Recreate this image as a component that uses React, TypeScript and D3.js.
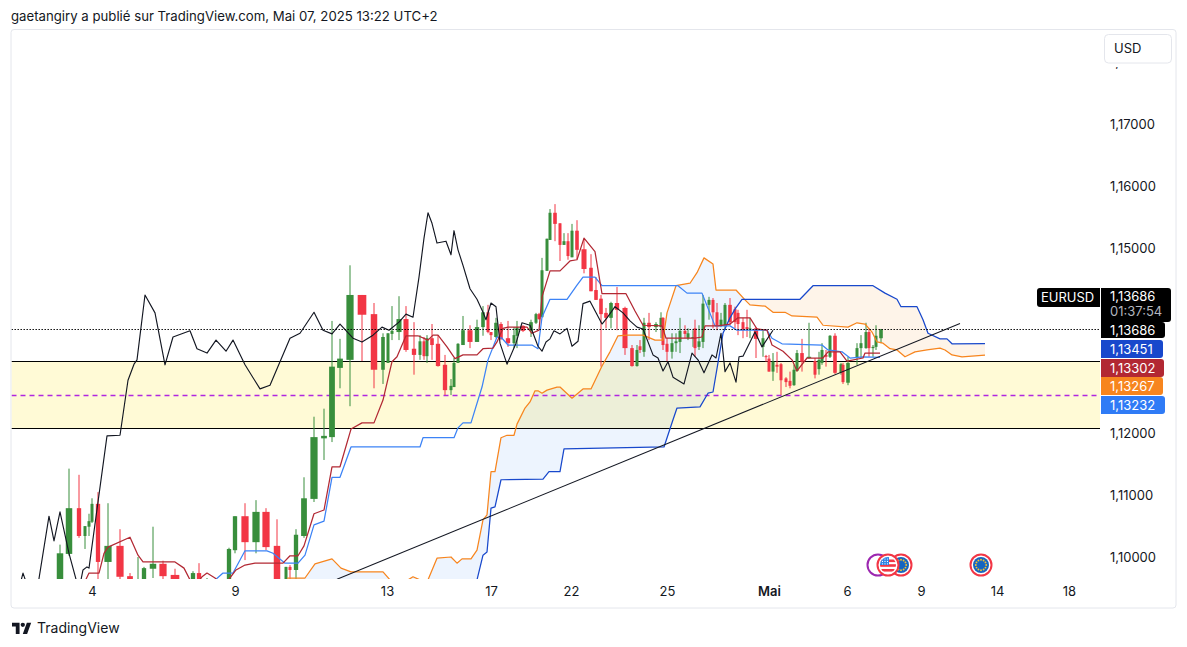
import React, { useEffect, useRef } from 'react';
import * as d3 from 'd3';

type Pt = [number, number];
type Candle = [number, number, number, number, number];

const width = 1187;
const height = 647;

// [bar position, open, high, low, close]
const candles: Candle[] = [
  [60, 1.0947, 1.102, 1.0938, 1.1006], [69, 1.1005, 1.1143, 1.1002, 1.1079], [79, 1.1079, 1.1133, 1.1031, 1.1034],
  [85, 1.1034, 1.105, 1.1013, 1.105], [89, 1.1049, 1.107, 1.1034, 1.1058], [92, 1.1057, 1.1095, 1.1055, 1.1086],
  [98, 1.1086, 1.1105, 1.0947, 1.0992], [108, 1.0992, 1.1087, 1.0947, 1.1018], [120, 1.1018, 1.1045, 1.096, 1.0968],
  [130, 1.0969, 1.0974, 1.095, 1.0955], [138, 1.094, 1.1, 1.093, 1.0955], [144, 1.0947, 1.0984, 1.094, 1.0982],
  [153, 1.0981, 1.1049, 1.0966, 1.0989], [163, 1.0989, 1.0994, 1.0955, 1.0969], [175, 1.0971, 1.0981, 1.094, 1.0947],
  [193, 1.0947, 1.0977, 1.094, 1.0974], [199, 1.0974, 1.099, 1.094, 1.0947], [207, 1.094, 1.0966, 1.0935, 1.0955],
  [229, 1.0947, 1.1015, 1.094, 1.1013], [235, 1.1011, 1.1066, 1.1006, 1.1066], [245, 1.1066, 1.1087, 1.0995, 1.1024],
  [256, 1.1024, 1.1092, 1.1006, 1.1073], [266, 1.1073, 1.1079, 1.1011, 1.1016], [277, 1.1018, 1.1061, 1.094, 1.0947],
  [286, 1.0947, 1.0984, 1.094, 1.0984], [290, 1.0984, 1.0987, 1.0955, 1.0979], [296, 1.0979, 1.1045, 1.0947, 1.1036],
  [304, 1.1034, 1.1129, 1.1031, 1.1095], [314, 1.1094, 1.1227, 1.1089, 1.1194], [324, 1.1192, 1.124, 1.1157, 1.1196],
  [332, 1.1194, 1.1382, 1.1186, 1.1308], [340, 1.1306, 1.1353, 1.1273, 1.1321], [350, 1.1319, 1.1472, 1.1244, 1.1424],
  [362, 1.1424, 1.1424, 1.1317, 1.1392], [374, 1.1393, 1.1411, 1.1273, 1.1303], [383, 1.1303, 1.1362, 1.128, 1.1356],
  [388, 1.1314, 1.1362, 1.1314, 1.1362], [392, 1.1361, 1.1406, 1.1351, 1.1366], [399, 1.1364, 1.1422, 1.1351, 1.1385],
  [406, 1.1385, 1.1406, 1.1332, 1.1335], [414, 1.1337, 1.138, 1.1295, 1.1327], [420, 1.1327, 1.1359, 1.1319, 1.1349],
  [424, 1.1349, 1.1356, 1.1319, 1.1325], [427, 1.1325, 1.1359, 1.1314, 1.1354], [432, 1.1354, 1.1377, 1.1319, 1.1343],
  [438, 1.1345, 1.1359, 1.1308, 1.1309], [445, 1.1311, 1.1327, 1.1262, 1.127], [451, 1.127, 1.1288, 1.1262, 1.1277],
  [454, 1.1275, 1.1322, 1.1275, 1.1314], [458, 1.1314, 1.1346, 1.1314, 1.1345], [463, 1.1343, 1.139, 1.1343, 1.1367],
  [470, 1.1367, 1.1375, 1.1338, 1.1348], [477, 1.1348, 1.1384, 1.1348, 1.1372], [483, 1.1372, 1.1406, 1.1358, 1.1396],
  [488, 1.1396, 1.1408, 1.1362, 1.1364], [491, 1.1364, 1.1364, 1.1351, 1.1359], [496, 1.1356, 1.1387, 1.1354, 1.1379],
  [501, 1.1377, 1.138, 1.1351, 1.1353], [508, 1.1354, 1.1382, 1.134, 1.1346], [514, 1.1346, 1.1372, 1.1338, 1.1359],
  [517, 1.1358, 1.1382, 1.1338, 1.1372], [523, 1.1374, 1.1375, 1.1364, 1.1366], [531, 1.1366, 1.1384, 1.1356, 1.138],
  [536, 1.1379, 1.1395, 1.1377, 1.1393], [539, 1.1393, 1.1395, 1.1384, 1.1385], [542, 1.1388, 1.1484, 1.1388, 1.1464],
  [547, 1.1463, 1.1515, 1.1463, 1.1515], [550, 1.1513, 1.1563, 1.1513, 1.1557], [555, 1.1557, 1.1571, 1.1511, 1.1539],
  [560, 1.154, 1.154, 1.1479, 1.1505], [564, 1.1505, 1.1524, 1.1505, 1.1511], [568, 1.1511, 1.1524, 1.1481, 1.1487],
  [572, 1.1485, 1.1539, 1.1485, 1.1528], [577, 1.1528, 1.1545, 1.1482, 1.1497], [584, 1.1498, 1.1515, 1.1459, 1.1466],
  [591, 1.1468, 1.149, 1.143, 1.143], [596, 1.1432, 1.1453, 1.1416, 1.1416], [601, 1.1418, 1.1424, 1.1308, 1.1393],
  [606, 1.1395, 1.1403, 1.137, 1.1387], [611, 1.1387, 1.1413, 1.137, 1.1411], [617, 1.1411, 1.1437, 1.1367, 1.14],
  [625, 1.1403, 1.1405, 1.1327, 1.1338], [632, 1.1338, 1.1343, 1.1308, 1.1309], [637, 1.1309, 1.1343, 1.1308, 1.1335],
  [640, 1.1341, 1.1351, 1.133, 1.1335], [644, 1.1332, 1.1387, 1.1324, 1.1379], [649, 1.1379, 1.1395, 1.1351, 1.1372],
  [656, 1.1372, 1.138, 1.1364, 1.1377], [661, 1.1372, 1.1396, 1.1354, 1.1387], [663, 1.1387, 1.1388, 1.1335, 1.1343],
  [667, 1.1345, 1.1354, 1.1317, 1.1332], [672, 1.1332, 1.1362, 1.1321, 1.1346], [676, 1.1346, 1.1362, 1.1332, 1.1349],
  [680, 1.1348, 1.1387, 1.133, 1.1366], [685, 1.1366, 1.1375, 1.1354, 1.1361], [688, 1.1354, 1.137, 1.1351, 1.1362],
  [693, 1.1354, 1.1367, 1.134, 1.1356], [695, 1.137, 1.1384, 1.1324, 1.1338], [699, 1.134, 1.1375, 1.1335, 1.1349],
  [703, 1.1348, 1.1424, 1.1338, 1.141], [709, 1.1408, 1.1421, 1.1384, 1.1416], [713, 1.1416, 1.1419, 1.137, 1.1396],
  [717, 1.1396, 1.1411, 1.1367, 1.1375], [721, 1.1375, 1.1395, 1.1372, 1.1384], [725, 1.1375, 1.1411, 1.1367, 1.1408],
  [730, 1.1408, 1.1419, 1.1375, 1.138], [735, 1.1401, 1.1405, 1.137, 1.138], [738, 1.1395, 1.14, 1.1359, 1.1377],
  [743, 1.138, 1.1387, 1.1354, 1.1367], [747, 1.1372, 1.14, 1.1356, 1.1369], [750, 1.1369, 1.1387, 1.1354, 1.137],
  [756, 1.137, 1.1372, 1.1322, 1.1353], [763, 1.134, 1.1367, 1.1324, 1.1354], [766, 1.1325, 1.1327, 1.1316, 1.1324],
  [769, 1.1321, 1.1327, 1.13, 1.13], [773, 1.13, 1.133, 1.1285, 1.1316], [777, 1.1311, 1.1332, 1.1298, 1.1308],
  [781, 1.1312, 1.1314, 1.1262, 1.1286], [786, 1.1289, 1.1291, 1.1275, 1.1283], [790, 1.1285, 1.13, 1.1273, 1.1277],
  [794, 1.1278, 1.1311, 1.1277, 1.1303], [797, 1.1301, 1.1335, 1.13, 1.133], [802, 1.133, 1.1353, 1.13, 1.1316],
  [809, 1.1322, 1.1379, 1.1321, 1.1324], [815, 1.1317, 1.1322, 1.1289, 1.1295], [819, 1.1304, 1.1332, 1.1295, 1.1319],
  [822, 1.1314, 1.1346, 1.1311, 1.1335], [826, 1.1327, 1.1335, 1.1308, 1.1324], [830, 1.1324, 1.1359, 1.1322, 1.1358],
  [835, 1.1358, 1.1362, 1.1296, 1.1298], [841, 1.1298, 1.1314, 1.1295, 1.1312], [843, 1.1311, 1.1314, 1.128, 1.1283],
  [848, 1.1282, 1.1324, 1.1278, 1.1314], [857, 1.1322, 1.1346, 1.1311, 1.1338], [861, 1.1338, 1.1359, 1.1322, 1.1346],
  [866, 1.1338, 1.1379, 1.1337, 1.1364], [869, 1.1364, 1.137, 1.1324, 1.1338], [873, 1.1338, 1.1343, 1.1324, 1.134],
  [876, 1.134, 1.1375, 1.1335, 1.1358], [881, 1.1354, 1.1369, 1.1346, 1.13686],
];

const conversionLine: Pt[] = [
  [86, 1.0964], [89, 1.0974], [99, 1.0974], [104, 1.1006], [108, 1.1016], [130, 1.1032], [138, 1.1003], [143, 1.0992],
  [175, 1.0992], [184, 1.0982], [190, 1.0963], [196, 1.0955], [202, 1.0968], [207, 1.0974], [215, 1.0966], [222, 1.0955],
  [229, 1.0964], [236, 1.0979], [245, 1.0987], [255, 1.099], [283, 1.099], [290, 1.1002], [298, 1.1002], [304, 1.1018],
  [314, 1.107], [324, 1.1076], [332, 1.1146], [340, 1.1146], [351, 1.1207], [362, 1.1217], [374, 1.1217], [383, 1.1254],
  [392, 1.1316], [397, 1.1324], [406, 1.1358], [418, 1.1358], [428, 1.1351], [433, 1.1359], [438, 1.1359], [447, 1.134],
  [455, 1.1321], [463, 1.1327], [477, 1.1327], [483, 1.1337], [493, 1.1338], [497, 1.1348], [503, 1.137], [508, 1.1372],
  [527, 1.1372], [532, 1.1362], [539, 1.1367], [542, 1.1421], [550, 1.1463], [560, 1.1463], [570, 1.1479], [577, 1.1481],
  [584, 1.1516], [595, 1.1494], [602, 1.1426], [626, 1.1426], [635, 1.1398], [643, 1.1375], [662, 1.1374], [666, 1.1354],
  [695, 1.1354], [702, 1.1356], [705, 1.1374], [718, 1.1374], [730, 1.1377], [738, 1.1387], [750, 1.1387], [757, 1.1369],
  [767, 1.1367], [772, 1.1343], [783, 1.1333], [792, 1.1319], [797, 1.1301], [807, 1.1322], [823, 1.1322], [828, 1.1332],
  [840, 1.1332], [847, 1.1317], [863, 1.1322], [865, 1.133], [880, 1.133],
];

const baseLine: Pt[] = [
  [216, 1.0964], [223, 1.0974], [233, 1.0974], [245, 1.101], [267, 1.101], [273, 1.1006], [285, 1.099], [298, 1.099],
  [305, 1.1003], [314, 1.1052], [324, 1.1058], [332, 1.1129], [340, 1.1129], [351, 1.1178], [420, 1.1178], [423, 1.1193],
  [454, 1.1193], [458, 1.1209], [463, 1.1217], [471, 1.1217], [482, 1.1275], [488, 1.1319], [497, 1.1356], [502, 1.1354],
  [508, 1.1343], [532, 1.1343], [538, 1.1337], [542, 1.1388], [550, 1.1417], [567, 1.1417], [577, 1.144], [583, 1.1453],
  [595, 1.1453], [602, 1.1439], [678, 1.1439], [687, 1.1427], [702, 1.1427], [715, 1.1374], [730, 1.1374], [737, 1.1367],
  [767, 1.1367], [772, 1.1354], [782, 1.1345], [822, 1.1343], [828, 1.1335], [842, 1.1332], [850, 1.1322], [863, 1.1324],
  [880, 1.13232],
];

const spanA: Pt[] = [
  [287, 1.0966], [305, 1.0966], [315, 1.0989], [332, 1.0997], [341, 1.0982], [351, 1.0976], [383, 1.0976], [390, 1.0963],
  [400, 1.0947], [408, 1.0963], [413, 1.0968], [420, 1.0963], [428, 1.0963], [437, 1.0998], [451, 1.1], [457, 1.099],
  [462, 1.0997], [471, 1.0997], [477, 1.1011], [483, 1.106], [487, 1.1068], [491, 1.1138], [495, 1.1138], [501, 1.1193],
  [507, 1.1197], [514, 1.1197], [517, 1.1215], [525, 1.1241], [530, 1.1251], [535, 1.1269], [538, 1.1269], [542, 1.1265],
  [547, 1.127], [557, 1.1275], [560, 1.1275], [572, 1.1257], [583, 1.1272], [591, 1.1272], [602, 1.1309], [610, 1.1332],
  [618, 1.1358], [627, 1.1359], [643, 1.1359], [655, 1.1351], [663, 1.1351], [667, 1.1395], [676, 1.1439], [690, 1.1443],
  [697, 1.146], [704, 1.1484], [713, 1.1474], [716, 1.1432], [736, 1.1432], [745, 1.1416], [750, 1.1408], [765, 1.1406],
  [773, 1.1396], [785, 1.1396], [792, 1.139], [817, 1.1388], [823, 1.1375], [848, 1.1372], [857, 1.1379], [865, 1.1377],
  [872, 1.1364], [877, 1.1348], [883, 1.1346], [890, 1.1337], [897, 1.1335], [905, 1.1324], [915, 1.1332], [927, 1.1335],
  [940, 1.1338], [945, 1.1335], [952, 1.1327], [962, 1.1324], [985, 1.13267],
];

const spanB: Pt[] = [
  [287, 1.09], [470, 1.09], [477, 1.0963], [483, 1.1003], [487, 1.1008], [491, 1.1079], [495, 1.1081], [501, 1.1125],
  [543, 1.1126], [549, 1.1138], [560, 1.1138], [564, 1.1175], [664, 1.1178], [673, 1.1222], [677, 1.1241], [700, 1.1243],
  [708, 1.1265], [713, 1.1267], [723, 1.1362], [730, 1.1387], [735, 1.1401], [742, 1.1417], [800, 1.1417], [813, 1.1439],
  [873, 1.1439], [885, 1.1427], [897, 1.1417], [901, 1.1405], [917, 1.1405], [923, 1.1384], [928, 1.1362], [940, 1.1353],
  [947, 1.1353], [952, 1.1345], [985, 1.13451],
];

const laggingSpan: Pt[] = [
  [20, 1.0955], [23, 1.0974], [27, 1.0955], [38, 1.0955], [49, 1.1066], [54, 1.1026], [60, 1.1073], [69, 1.1006], [76, 1.0964],
  [80, 1.0955], [83, 1.0979], [87, 1.0984], [89, 1.0982], [107, 1.1196], [120, 1.1197], [128, 1.1286], [134, 1.1312],
  [137, 1.1319], [145, 1.1424], [155, 1.1395], [165, 1.1311], [173, 1.1356], [190, 1.1366], [197, 1.1337], [207, 1.133],
  [216, 1.1351], [226, 1.1333], [233, 1.1351], [245, 1.1311], [260, 1.1272], [270, 1.1278], [290, 1.1354], [300, 1.1362],
  [314, 1.1396], [323, 1.1367], [332, 1.1361], [340, 1.1377], [353, 1.1354], [362, 1.1348], [373, 1.1359], [382, 1.1372],
  [389, 1.1367], [399, 1.138], [406, 1.1393], [413, 1.1388], [419, 1.1453], [424, 1.1516], [428, 1.1557], [432, 1.154],
  [437, 1.1508], [446, 1.1511], [451, 1.1489], [454, 1.1528], [458, 1.1497], [463, 1.1472], [470, 1.1434], [477, 1.1417],
  [483, 1.1396], [486, 1.1384], [491, 1.1411], [496, 1.1405], [500, 1.1346], [507, 1.1312], [516, 1.1346], [522, 1.1379],
  [530, 1.1375], [538, 1.1341], [542, 1.1333], [546, 1.1348], [550, 1.1353], [554, 1.1366], [560, 1.1361], [567, 1.137],
  [572, 1.1341], [578, 1.1349], [583, 1.141], [590, 1.1414], [602, 1.1377], [607, 1.1387], [615, 1.1405], [623, 1.1395],
  [630, 1.1382], [637, 1.1372], [643, 1.1369], [653, 1.1327], [658, 1.1322], [663, 1.1301], [668, 1.1316], [673, 1.1291],
  [684, 1.128], [692, 1.133], [698, 1.1319], [704, 1.1298], [712, 1.1327], [716, 1.1322], [721, 1.1362], [725, 1.13],
  [730, 1.1314], [736, 1.1283], [739, 1.1324], [743, 1.1325], [755, 1.1364], [762, 1.134], [773, 1.1367],
];

const trendLine: Pt[] = [[337, 1.0964], [960, 1.1378]];
const cloudFlip = 745;

const zoneTop = 1.1317;
const zoneBottom = 1.1208;
const zoneMiddle = 1.1262;
const lastPrice = 1.13686;

const priceTicks = [1.18, 1.17, 1.16, 1.15, 1.12, 1.11, 1.1];
const timeTicks = [92, 235, 387, 491, 571, 667, 769, 847, 921, 997, 1069];
const timeLabels = ['4', '9', '13', '17', '22', '25', 'Mai', '6', '9', '14', '18'];

const usEvents = [878, 888];
const euEvents = [901, 981];

const GREEN = '#388e3c';
const RED = '#f23645';
const INK = '#131722';
const FONT = 'Inter, "Liberation Sans", sans-serif';

const App: React.FC = () => {
  const svgRef = useRef<SVGSVGElement>(null);

  useEffect(() => {
    if (!svgRef.current) return;
    const svg = d3.select(svgRef.current);
    svg.selectAll('*').remove();

    const paneLeft = 11.5;
    const paneRight = 1100;
    const paneTop = 30;
    const paneBottom = 579;

    const x = d3.scaleLinear().domain([12, 1100]).range([12, 1100]);
    const y = d3.scaleLinear().domain([1.1, 1.17]).range([557, 124.4]);
    const crisp = (v: number) => Math.round(y(v)) + 0.5;

    const line = d3.line<Pt>().x(d => x(d[0])).y(d => y(d[1]));
    const defs = svg.append('defs');

    defs.append('clipPath').attr('id', 'pane')
      .append('rect')
      .attr('x', paneLeft).attr('y', paneTop)
      .attr('width', paneRight - paneLeft).attr('height', paneBottom - paneTop);
    defs.append('clipPath').attr('id', 'cloud-up')
      .append('rect')
      .attr('x', paneLeft).attr('y', paneTop)
      .attr('width', x(cloudFlip) - paneLeft).attr('height', paneBottom - paneTop);
    defs.append('clipPath').attr('id', 'cloud-down')
      .append('rect')
      .attr('x', x(cloudFlip)).attr('y', paneTop)
      .attr('width', paneRight - x(cloudFlip)).attr('height', paneBottom - paneTop);

    // frame
    svg.append('rect')
      .attr('x', 11).attr('y', 29.5).attr('width', 1165).attr('height', 578.5).attr('rx', 3)
      .attr('fill', '#fff').attr('stroke', '#e4e6ec');

    const pane = svg.append('g').attr('clip-path', 'url(#pane)');

    // support zone
    pane.append('rect')
      .attr('x', paneLeft).attr('width', paneRight - paneLeft)
      .attr('y', crisp(zoneTop)).attr('height', crisp(zoneBottom) - crisp(zoneTop))
      .attr('fill', '#fffad6');

    // cloud
    const cloudOutline = line([...spanA, ...[...spanB].reverse()]) + 'Z';
    pane.append('g').attr('clip-path', 'url(#cloud-up)')
      .append('path').attr('d', cloudOutline).attr('fill', '#2f7bf6').attr('opacity', 0.085);
    pane.append('g').attr('clip-path', 'url(#cloud-down)')
      .append('path').attr('d', cloudOutline).attr('fill', '#f57c00').attr('opacity', 0.085);

    // zone borders
    [zoneTop, zoneBottom].forEach(v => {
      pane.append('line')
        .attr('x1', paneLeft).attr('x2', paneRight)
        .attr('y1', crisp(v)).attr('y2', crisp(v))
        .attr('stroke', '#000').attr('stroke-width', 1);
    });
    pane.append('line')
      .attr('x1', paneLeft).attr('x2', paneRight)
      .attr('y1', crisp(zoneMiddle)).attr('y2', crisp(zoneMiddle))
      .attr('stroke', '#b026e0').attr('stroke-width', 1.6).attr('stroke-dasharray', '5 4');

    // candles
    const bodyWidth = (i: number) => {
      const pos = candles[i][0];
      const gaps: number[] = [];
      if (i > 0) gaps.push(pos - candles[i - 1][0]);
      if (i < candles.length - 1) gaps.push(candles[i + 1][0] - pos);
      return Math.max(3, Math.min(...gaps) * 0.72);
    };
    const candleGroup = pane.append('g');
    candles.forEach((c, i) => {
      const [pos, open, high, low, close] = c;
      const color = close >= open ? GREEN : RED;
      const w = bodyWidth(i);
      candleGroup.append('line')
        .attr('x1', x(pos)).attr('x2', x(pos))
        .attr('y1', y(high)).attr('y2', y(low))
        .attr('stroke', color).attr('stroke-width', 1);
      candleGroup.append('rect')
        .attr('x', x(pos) - w / 2).attr('width', w)
        .attr('y', y(Math.max(open, close)))
        .attr('height', Math.max(1, Math.abs(y(open) - y(close))))
        .attr('fill', color);
    });

    // ichimoku lines
    const drawLine = (data: Pt[], color: string, w = 1.25) => {
      pane.append('path')
        .attr('d', line(data))
        .attr('fill', 'none')
        .attr('stroke', color)
        .attr('stroke-width', w)
        .attr('stroke-linejoin', 'round');
    };
    drawLine(spanA, '#f7851e');
    drawLine(spanB, '#1848cc');
    drawLine(baseLine, '#3c83f6');
    drawLine(conversionLine, '#b22833');
    drawLine(laggingSpan, '#131722', 1.15);
    drawLine(trendLine, '#131722', 1.05);

    // last price dotted line
    pane.append('line')
      .attr('x1', paneLeft).attr('x2', paneRight)
      .attr('y1', crisp(lastPrice)).attr('y2', crisp(lastPrice))
      .attr('stroke', '#000').attr('stroke-width', 1.2).attr('stroke-dasharray', '1.4 1.6');

    // event markers
    const usRing = (cx: number, ring: string) => {
      svg.append('circle').attr('cx', x(cx)).attr('cy', 565).attr('r', 10.5)
        .attr('fill', '#fff').attr('stroke', ring).attr('stroke-width', 2);
    };
    usRing(usEvents[0], '#9c27b0');
    const euFlag = (cx: number) => {
      usRing(cx, RED);
      const g = svg.append('g').attr('transform', `translate(${x(cx)},565)`);
      g.append('circle').attr('r', 8).attr('fill', '#1565c0');
      d3.range(12).forEach(i => {
        const a = (i * Math.PI) / 6;
        g.append('circle').attr('cx', 5.2 * Math.cos(a)).attr('cy', 5.2 * Math.sin(a)).attr('r', 0.95).attr('fill', '#f9c22e');
      });
    };
    euEvents.forEach(euFlag);

    // us flag goes on top of its neighbours
    usRing(usEvents[1], RED);
    defs.append('clipPath').attr('id', 'us-clip').append('circle').attr('r', 8);
    const us = svg.append('g').attr('transform', `translate(${x(usEvents[1])},565)`)
      .append('g').attr('clip-path', 'url(#us-clip)');
    us.append('rect').attr('x', -8).attr('y', -8).attr('width', 16).attr('height', 16).attr('fill', '#fff');
    [-5.5, -0.8, 4].forEach(s => {
      us.append('rect').attr('x', -8).attr('y', s).attr('width', 16).attr('height', 2.6).attr('fill', RED);
    });
    us.append('rect').attr('x', -8).attr('y', -8).attr('width', 9).attr('height', 8).attr('fill', '#2f86e6');
    d3.range(3).forEach(r => d3.range(3).forEach(c => {
      us.append('circle').attr('cx', -5.5 + c * 2.5).attr('cy', -6 + r * 2.4).attr('r', 0.6).attr('fill', '#fff');
    }));

    // price axis
    const yAxis = svg.append('g')
      .attr('transform', 'translate(1100,0)')
      .call(d3.axisRight(y).tickValues(priceTicks).tickSize(0).tickPadding(10)
        .tickFormat(d => (d as number).toFixed(5).replace('.', ',')));
    yAxis.select('.domain').remove();
    yAxis.selectAll('text')
      .attr('font-family', FONT).attr('font-size', 13).attr('fill', INK);

    // time axis
    const xAxis = svg.append('g')
      .attr('transform', 'translate(0,584)')
      .call(d3.axisBottom(x).tickValues(timeTicks).tickSize(0).tickPadding(3)
        .tickFormat((_, i) => timeLabels[i]));
    xAxis.select('.domain').remove();
    xAxis.selectAll('text')
      .attr('font-family', FONT).attr('font-size', 13).attr('fill', INK)
      .attr('font-weight', (_, i) => (timeLabels[i] === 'Mai' ? 600 : 400));

    // currency button sits over the top tick, with a white margin below it
    svg.append('rect')
      .attr('x', 1102).attr('y', 32).attr('width', 72).attr('height', 35)
      .attr('fill', '#fff');
    svg.append('rect')
      .attr('x', 1104.5).attr('y', 34.5).attr('width', 67).attr('height', 28.5).attr('rx', 4)
      .attr('fill', '#fff').attr('stroke', '#e4e6ec');
    svg.append('text')
      .attr('x', 1114).attr('y', 53)
      .attr('font-family', FONT).attr('font-size', 13).attr('fill', INK)
      .text('USD');

    // price tags
    const tag = (top: number, bottom: number, right: number, color: string, label: string) => {
      const r = 3;
      svg.append('path')
        .attr('d', `M1101,${top}H${right - r}Q${right},${top} ${right},${top + r}V${bottom - r}Q${right},${bottom} ${right - r},${bottom}H1101Z`)
        .attr('fill', color);
      svg.append('text')
        .attr('x', 1110).attr('y', (top + bottom) / 2 + 4.5)
        .attr('font-family', FONT).attr('font-size', 13).attr('fill', '#fff')
        .text(label);
    };
    tag(322, 338, 1165, '#000', '1,13686');
    tag(340, 358, 1163, '#1848cc', '1,13451');
    tag(359, 377, 1164, '#b22833', '1,13302');
    tag(377, 395, 1163, '#f7851e', '1,13267');
    tag(396, 414, 1165, '#2f7bf6', '1,13232');

    svg.append('path')
      .attr('d', 'M1101,288H1168Q1171,288 1171,291V319Q1171,322 1168,322H1101Z')
      .attr('fill', '#000');
    svg.append('text')
      .attr('x', 1110).attr('y', 301)
      .attr('font-family', FONT).attr('font-size', 13).attr('fill', '#fff')
      .text('1,13686');
    svg.append('text')
      .attr('x', 1110).attr('y', 316)
      .attr('font-family', FONT).attr('font-size', 13).attr('fill', '#b2b5be')
      .text('01:37:54');

    svg.append('path')
      .attr('d', 'M1100,288V307H1040Q1037,307 1037,304V291Q1037,288 1040,288Z')
      .attr('fill', '#000');
    svg.append('text')
      .attr('x', 1041).attr('y', 302)
      .attr('font-family', FONT).attr('font-size', 13).attr('fill', '#fff')
      .text('EURUSD');

    // header and footer
    svg.append('text')
      .attr('x', 11).attr('y', 20.5)
      .attr('font-family', FONT).attr('font-size', 13.2).attr('fill', INK)
      .text('gaetangiry a publié sur TradingView.com, Mai 07, 2025 13:22 UTC+2');

    const logo = svg.append('g').attr('transform', 'translate(12,620) scale(0.54)').attr('fill', INK);
    logo.append('path').attr('d', 'M14 26H7V12H0V5h14v21zM28 26h-8L27.5 5h8L28 26z');
    logo.append('circle').attr('cx', 20).attr('cy', 9).attr('r', 4);
    svg.append('text')
      .attr('x', 37).attr('y', 633)
      .attr('font-family', FONT).attr('font-size', 14).attr('fill', INK)
      .text('TradingView');
  }, []);

  return (
    <svg
      ref={svgRef}
      width={width}
      height={height}
      style={{ position: 'absolute', left: 0, top: 0, display: 'block', background: '#fff' }}
    />
  );
};

export default App;
